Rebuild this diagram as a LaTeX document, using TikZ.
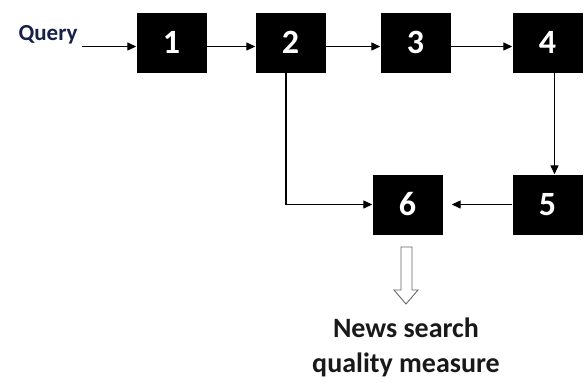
\documentclass[tikz,border=0pt]{standalone}
\usepackage{fontspec}
\setmainfont{Carlito}
\usetikzlibrary{arrows.meta}
\definecolor{querytext}{RGB}{22,32,72}
\tikzset{
  stepbox/.style={fill=black, minimum width=70pt, minimum height=60pt, inner sep=0pt,
    text=white, font=\fontsize{34}{36}\selectfont\bfseries},
  flow/.style={line width=1.3pt, -{Triangle[length=9pt,width=8pt]}}
}
\begin{document}
\begin{tikzpicture}[x=1pt,y=-1pt]
\useasboundingbox (0,0) rectangle (584,383);
\node[stepbox] (b1) at (171.5,42.5){1};
\node[stepbox] (b2) at (290.5,42.5){2};
\node[stepbox] (b3) at (415.5,42.5){3};
\node[stepbox] (b4) at (547.5,42.5){4};
\node[stepbox] (b5) at (547.5,204.5){5};
\node[stepbox] (b6) at (407.5,204.5){6};
\node[text=querytext, font=\fontsize{23}{25}\selectfont\bfseries] (query) at (48,35){Query};
\coordinate (qin) at (82,46.5);
\draw[flow](qin) -- (qin -| b1.west);
\draw[flow]([yshift=-4pt]b1.east) -- ([yshift=-4pt]b2.west);
\draw[flow]([yshift=-4pt]b2.east) -- ([yshift=-4pt]b3.west);
\draw[flow]([yshift=-4pt]b3.east) -- ([yshift=-4pt]b4.west);
\draw[flow]([xshift=7pt]b4.south) -- ([xshift=7pt]b5.north);
\draw[flow](b5.west) -- ([xshift=9pt]b6.east);
\draw[flow]([xshift=-4.5pt]b2.south) |- (b6.west);
% output arrow
\draw[gray!80!black, line width=0.9pt, line join=miter] (401,247) -- (412,247) -- (412,290) -- (418,290)
  -- (406,304) -- (394,290) -- (401,290) -- cycle;
\node[align=center, font=\fontsize{28}{35}\selectfont\bfseries, text=black!90] (measure) at (406,347){News search\\quality measure};
\end{tikzpicture}
\end{document}
